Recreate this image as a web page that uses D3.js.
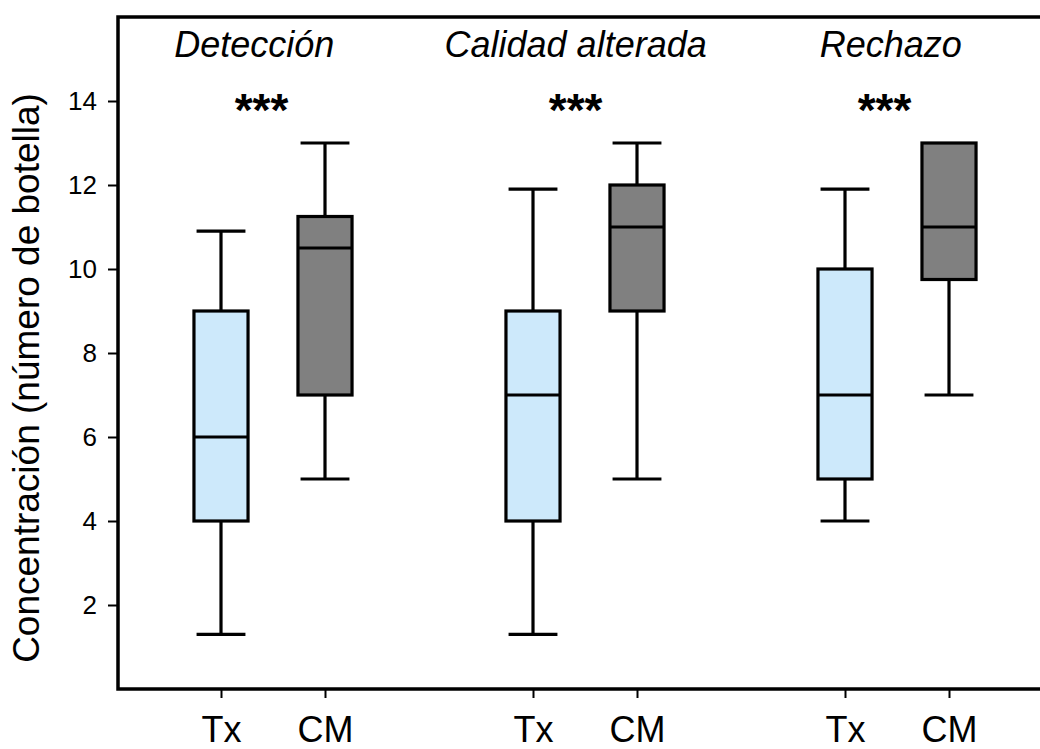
<!DOCTYPE html>
<html>
<head>
<meta charset="utf-8">
<script src="https://cdn.jsdelivr.net/npm/d3@7"></script>
<style>
  body { margin: 0; background: #fff; }
  text { font-family: "Liberation Sans", Arial, sans-serif; fill: #000; }
</style>
</head>
<body>
<div id="chart"></div>
<script>
// Chart data
var groups = ["Detección", "Calidad alterada", "Rechazo"];
var treatments = ["Tx", "CM"];
var boxPositions = [0, 1, 3, 4, 6, 7];
var whiskerLow  = [1.3, 5, 1.3, 5, 4, 7];
var q1Values    = [4, 7, 4, 9, 5, 9.75];
var medianVals  = [6, 10.5, 7, 11, 7, 11];
var q3Values    = [9, 11.25, 9, 12, 10, 13];
var whiskerHigh = [10.9, 13, 11.9, 13, 11.9, 13];
var groupTitleX = [0.32, 3.41, 6.44];
var starsX = [0.39, 3.41, 6.38];
var yTicks = [2, 4, 6, 8, 10, 12, 14];

var svgWidth = 1040;
var svgHeight = 749;

var svg = d3.select("#chart")
  .append("svg")
  .attr("width", svgWidth)
  .attr("height", svgHeight);

// scales
var x = d3.scaleLinear().domain([-1, 9]).range([117, 1157]);
var y = d3.scaleLinear().domain([0, 16]).range([689, 17]);
var unit = x(1) - x(0);
var boxW = unit * 0.52;
var capW = unit * 0.47;

var boxes = boxPositions.map(function(p, i) {
  return {
    pos: p,
    treat: treatments[i % 2],
    lo: whiskerLow[i], q1: q1Values[i], med: medianVals[i],
    q3: q3Values[i], hi: whiskerHigh[i]
  };
});

// frame
svg.append("rect")
  .attr("x", x(-1) + 1)
  .attr("y", y(16))
  .attr("width", x(9) - x(-1))
  .attr("height", y(0) - y(16))
  .attr("fill", "none")
  .attr("stroke", "#000")
  .attr("stroke-width", 3.5);

// y axis
var yAxis = svg.append("g")
  .attr("transform", "translate(" + (x(-1) + 1) + ",0)")
  .call(d3.axisLeft(y).tickValues(yTicks).tickSize(10).tickPadding(11).tickFormat(d3.format("d")));
yAxis.select(".domain").remove();
yAxis.selectAll(".tick line").attr("stroke", "#000").attr("stroke-width", 2);
yAxis.selectAll(".tick text")
  .style("font-family", "Liberation Sans, Arial, sans-serif")
  .style("font-size", "26px");

// x axis
var xAxis = svg.append("g")
  .attr("transform", "translate(0," + y(0) + ")")
  .call(d3.axisBottom(x).tickValues(boxPositions).tickSize(9).tickPadding(18)
    .tickFormat(function(d, i) { return treatments[i % 2]; }));
xAxis.select(".domain").remove();
xAxis.selectAll(".tick line").attr("stroke", "#000").attr("stroke-width", 2);
xAxis.selectAll(".tick text")
  .style("font-family", "Liberation Sans, Arial, sans-serif")
  .style("font-size", "36px");

// y label
svg.append("text")
  .attr("transform", "translate(39," + 378 + ") rotate(-90)")
  .attr("text-anchor", "middle")
  .style("font-size", "37px")
  .text("Concentración (número de botella)");

// boxes
var boxG = svg.selectAll(".box")
  .data(boxes)
  .enter()
  .append("g")
  .attr("class", "box");

// whiskers
boxG.append("line")
  .attr("x1", d => x(d.pos)).attr("x2", d => x(d.pos))
  .attr("y1", d => y(d.hi)).attr("y2", d => y(d.q3))
  .attr("stroke", "#000").attr("stroke-width", 3.2);
boxG.append("line")
  .attr("x1", d => x(d.pos)).attr("x2", d => x(d.pos))
  .attr("y1", d => y(d.q1)).attr("y2", d => y(d.lo))
  .attr("stroke", "#000").attr("stroke-width", 3.2);
boxG.filter(d => d.hi > d.q3).append("line")
  .attr("x1", d => x(d.pos) - capW / 2).attr("x2", d => x(d.pos) + capW / 2)
  .attr("y1", d => y(d.hi)).attr("y2", d => y(d.hi))
  .attr("stroke", "#000").attr("stroke-width", 3.2);
boxG.filter(d => d.lo < d.q1).append("line")
  .attr("x1", d => x(d.pos) - capW / 2).attr("x2", d => x(d.pos) + capW / 2)
  .attr("y1", d => y(d.lo)).attr("y2", d => y(d.lo))
  .attr("stroke", "#000").attr("stroke-width", 3.2);

// box body
boxG.append("rect")
  .attr("x", d => x(d.pos) - boxW / 2)
  .attr("y", d => y(d.q3))
  .attr("width", boxW)
  .attr("height", d => y(d.q1) - y(d.q3))
  .attr("fill", d => d.treat === "Tx" ? "#cde9fb" : "#808080")
  .attr("stroke", "#000")
  .attr("stroke-width", 3.2);

// median
boxG.append("line")
  .attr("x1", d => x(d.pos) - boxW / 2).attr("x2", d => x(d.pos) + boxW / 2)
  .attr("y1", d => y(d.med)).attr("y2", d => y(d.med))
  .attr("stroke", "#000").attr("stroke-width", 3.2);

// group titles
svg.selectAll(".gtitle")
  .data(groups)
  .enter()
  .append("text")
  .attr("class", "gtitle")
  .attr("x", (d, i) => x(groupTitleX[i]))
  .attr("y", 57)
  .attr("text-anchor", "middle")
  .style("font-size", "36px")
  .style("font-style", "italic")
  .text(d => d);

// significance stars
svg.selectAll(".stars")
  .data(starsX)
  .enter()
  .append("text")
  .attr("class", "stars")
  .attr("x", d => x(d))
  .attr("y", 126)
  .attr("text-anchor", "middle")
  .style("font-size", "46px")
  .style("font-weight", "bold")
  .text("***");
</script>
</body>
</html>
